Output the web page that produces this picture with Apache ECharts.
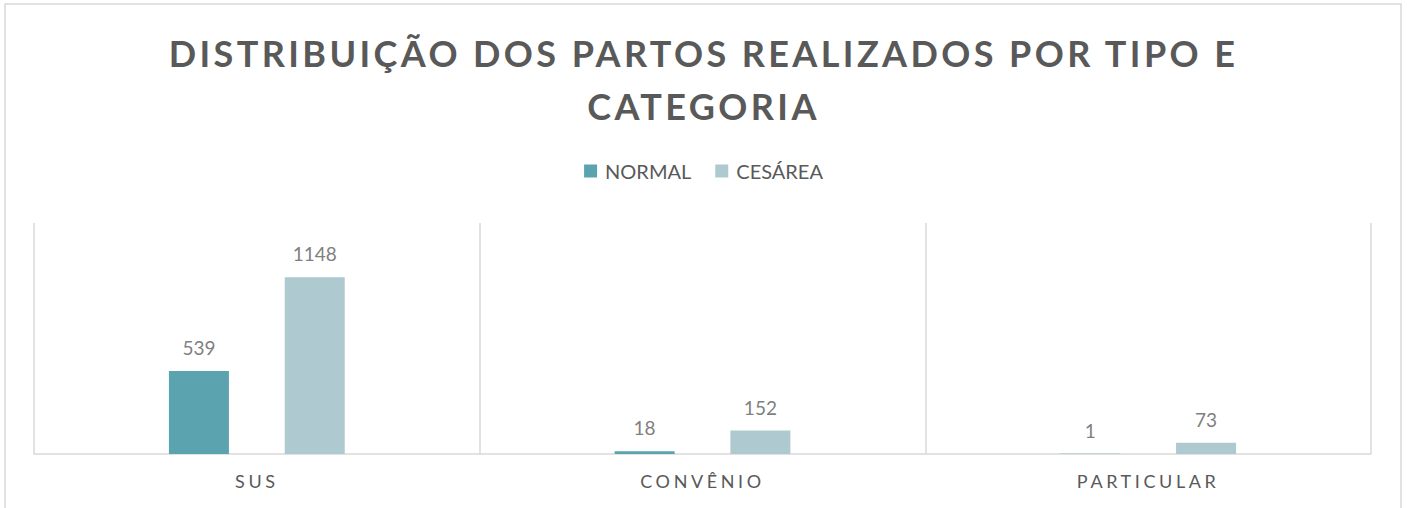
<!DOCTYPE html>
<html>
<head>
<meta charset="utf-8">
<script src="https://cdn.jsdelivr.net/npm/echarts@6/dist/echarts.min.js"></script>
<style>
  html, body { margin: 0; padding: 0; background: #fff; }
  #chart { width: 1407px; height: 508px; }
</style>
</head>
<body>
<div id="chart"></div>
<script>
const categories = ['SUS', 'CONVÊNIO', 'PARTICULAR']
const normalData = [539, 18, 1]
const cesareaData = [1148, 152, 73]
const seriesNames = ['NORMAL', 'CESÁREA']
const titleLines = ['DISTRIBUIÇÃO DOS PARTOS REALIZADOS POR TIPO E', 'CATEGORIA']

const chart = echarts.init(document.getElementById('chart'), null, { renderer: 'svg' })

const labelStyle = {
  show: true,
  position: 'top',
  distance: 14,
  color: '#7f7f7f',
  fontFamily: 'Lato',
  fontSize: 19
}

const option = {
  animation: false,
  title: {
    text: titleLines.join('\n'),
    left: 'center',
    top: 21,
    textStyle: {
      color: '#595959',
      fontFamily: 'Lato',
      fontWeight: 'bold',
      fontSize: 36,
      lineHeight: 53
    }
  },
  legend: {
    data: seriesNames,
    top: 156,
    left: 'center',
    itemWidth: 13,
    itemHeight: 13,
    itemGap: 24,
    icon: 'rect',
    textStyle: {
      color: '#595959',
      fontFamily: 'Lato',
      fontSize: 20,
      padding: [0, 0, 0, 3]
    }
  },
  graphic: [{
    type: 'rect',
    shape: { x: 5, y: 4, width: 1396, height: 520 },
    style: { fill: 'none', stroke: '#d9d9d9', lineWidth: 1.5 },
    silent: true
  }],
  grid: {
    left: 34,
    right: 36,
    top: 223,
    bottom: 54
  },
  xAxis: {
    type: 'category',
    data: categories,
    axisLine: { lineStyle: { color: '#d9d9d9', width: 1.5 } },
    axisTick: { show: false },
    splitLine: { show: true, lineStyle: { color: '#d9d9d9', width: 1.5 } },
    axisLabel: {
      color: '#595959',
      fontFamily: 'Lato',
      fontSize: 18,
      margin: 18
    }
  },
  yAxis: {
    type: 'value',
    min: 0,
    max: 1500,
    show: false
  },
  series: [
    {
      name: seriesNames[0],
      type: 'bar',
      data: normalData,
      barWidth: 60,
      barGap: '93%',
      itemStyle: { color: '#5ba3af' },
      label: labelStyle
    },
    {
      name: seriesNames[1],
      type: 'bar',
      data: cesareaData,
      barWidth: 60,
      itemStyle: { color: '#aec9d0' },
      label: labelStyle
    }
  ]
}

chart.setOption(option)

// letter spacing for title and axis labels (svg text)
const spaceText = () => {
  chart.getDom().querySelectorAll('text').forEach((t) => {
    const s = t.textContent
    if (titleLines.includes(s)) {
      t.style.letterSpacing = '3.4px'
    } else if (categories.includes(s)) {
      t.style.letterSpacing = '3.6px'
    }
  })
}
spaceText()
chart.on('finished', spaceText)
</script>
</body>
</html>
